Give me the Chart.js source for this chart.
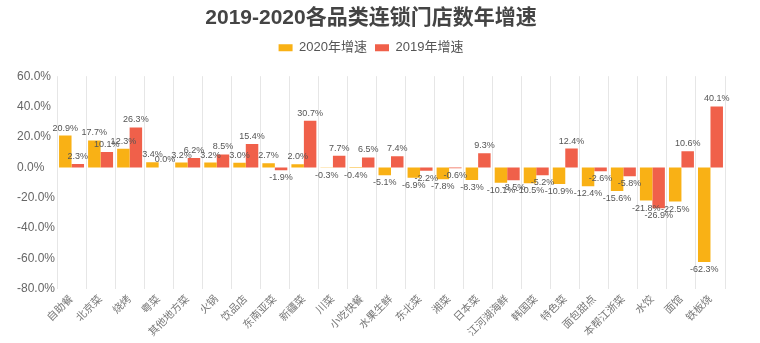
<!DOCTYPE html>
<html><head><meta charset="utf-8">
<script src="https://cdn.jsdelivr.net/npm/chart.js@4/dist/chart.umd.min.js"></script>
<style>html,body{margin:0;padding:0;background:#fff}#wrap{width:760px;height:343px}</style>
</head><body><div id="wrap"><canvas id="c" width="760" height="343"></canvas></div>
<script>
const categories = ["自助餐","北京菜","烧烤","粤菜","其他地方菜","火锅","饮品店","东南亚菜","新疆菜","川菜","小吃快餐","水果生鲜","东北菜","湘菜","日本菜","江河湖海鲜","韩国菜","特色菜","面包甜点","本帮江浙菜","水饺","面馆","铁板烧"];
const growth2020 = [20.9,17.7,12.3,3.4,3.2,3.2,3.0,2.7,2.0,-0.3,-0.4,-5.1,-6.9,-7.8,-8.3,-10.1,-10.5,-10.9,-12.4,-15.6,-21.8,-22.5,-62.3];
const growth2019 = [2.3,10.1,26.3,0.0,6.2,8.5,15.4,-1.9,30.7,7.7,6.5,7.4,-2.2,-0.6,9.3,-8.5,-5.2,12.4,-2.6,-5.8,-26.9,10.6,40.1];
const yTicks = [60,40,20,0,-20,-40,-60,-80];

const FONT = "'Liberation Sans','Noto Sans CJK SC',sans-serif";
const labelPlugin = {
  id: 'vals',
  afterDatasetsDraw(chart) {
    const ctx = chart.ctx;
    ctx.save();
    ctx.font = "9px " + FONT;
    ctx.fillStyle = '#555';
    ctx.textAlign = 'center';
    chart.data.datasets.forEach((ds, i) => {
      const meta = chart.getDatasetMeta(i);
      meta.data.forEach((el, j) => {
        const v = ds.data[j];
        const t = v.toFixed(1) + '%';
        if (v >= 0) { ctx.textBaseline = 'bottom'; ctx.fillText(t, el.x, el.y - 3); }
        else { ctx.textBaseline = 'top'; ctx.fillText(t, el.x, el.y + 3); }
      });
    });
    ctx.restore();
  }
};
const legendGap = {
  id: 'legendGap',
  beforeInit(chart) {
    const orig = chart.legend.fit;
    chart.legend.fit = function () { orig.bind(chart.legend)(); this.height += 12; };
  }
};

new Chart(document.getElementById('c'), {
  type: 'bar',
  data: {
    labels: categories,
    datasets: [
      { label: '2020年增速', data: growth2020, backgroundColor: '#F9B115' },
      { label: '2019年增速', data: growth2019, backgroundColor: '#F0604A' }
    ]
  },
  options: {
    responsive: false,
    animation: false,
    layout: { padding: { left: 17, right: 35, top: 2, bottom: 0 } },
    datasets: { bar: { categoryPercentage: 0.86, barPercentage: 1 } },
    plugins: {
      title: { display: true, text: '2019-2020各品类连锁门店数年增速', color: '#444',
        font: { family: FONT, size: 21, weight: 'bold' }, padding: { top: 4, bottom: 2 } },
      legend: { display: true, labels: { boxWidth: 14, boxHeight: 7, color: '#555',
        font: { family: FONT, size: 13 }, padding: 8 } },
      tooltip: { enabled: false }
    },
    scales: {
      x: {
        grid: { display: true, color: '#e6e6e6', offset: true, drawTicks: false },
        border: { display: false },
        afterFit(s) { s.paddingLeft = 0; s.paddingRight = 0; },
        ticks: { color: '#777', font: { family: FONT, size: 10.5 }, minRotation: 45, maxRotation: 45, autoSkip: false, padding: 4 }
      },
      y: {
        min: -80, max: 60,
        afterBuildTicks(axis) { axis.ticks = yTicks.map(v => ({ value: v })); },
        grid: { display: false, drawTicks: false },
        border: { display: false },
        ticks: { color: '#666', font: { family: FONT, size: 12 }, padding: 1, crossAlign: 'far',
          callback: v => v.toFixed(1) + '%' }
      }
    }
  },
  plugins: [labelPlugin, legendGap]
});
</script></body></html>
